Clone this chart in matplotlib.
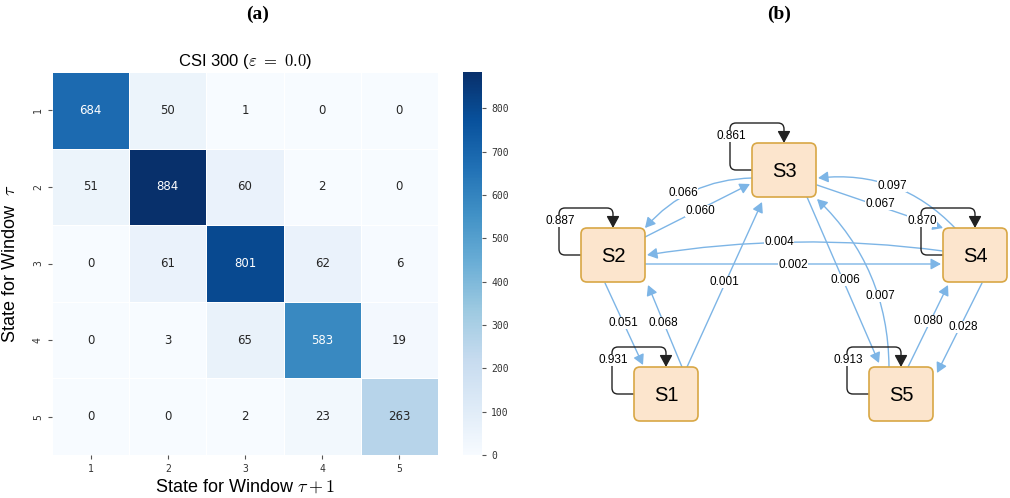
import numpy as np
import matplotlib
matplotlib.use("Agg")
import matplotlib.pyplot as plt
import seaborn as sns
from matplotlib.patches import FancyBboxPatch, FancyArrowPatch
from matplotlib.path import Path

# ---------------- data ----------------
states = [1, 2, 3, 4, 5]
counts = [
    [684, 50, 1, 0, 0],
    [51, 884, 60, 2, 0],
    [0, 61, 801, 62, 6],
    [0, 3, 65, 583, 19],
    [0, 0, 2, 23, 263],
]
cbar_ticks = [0, 100, 200, 300, 400, 500, 600, 700, 800]
heat_title = r"CSI 300 ($\varepsilon\ =\ 0.0$)"
xlabel = r"State for Window $\tau + 1$"
ylabel = r"State for Window  $\tau$"
node_names = ["S1", "S2", "S3", "S4", "S5"]

# transition probabilities (row-normalised counts)
cnt = np.array(counts, dtype=float)
probs = cnt / cnt.sum(axis=1, keepdims=True)

# ---------------- layout (pixels) ----------------
W, H = 1010, 498
node_center = {1: (666, 394), 2: (613, 255), 3: (784, 170), 4: (975, 255), 5: (901, 394)}
node_w, node_h = 64, 54
# edges: src, dst, start offset, end offset, label position, curvature
edges = [
    (3, 2, (-32, 8), (32, -27), (683, 193), 0.22),
    (2, 3, (32, -18), (-34, 14), (700, 211), 0.0),
    (4, 2, (-32, -4), (34, 0), (779, 242), 0.074),
    (2, 4, (32, 9), (-34, 9), (793, 265), 0.0),
    (1, 3, (21, -27), (-22, 32), (724, 282), 0.0),
    (3, 4, (33, 15), (-32, -27), (880, 204), 0.0),
    (4, 3, (-20, -27), (34, 8), (892, 186), 0.245),
    (3, 5, (23, 27), (-22, -31), (845, 280), 0.0),
    (5, 3, (-12, -27), (33, 29), (880, 296), 0.21),
    (2, 1, (-8, 28), (-23, -29), (623, 323), 0.0),
    (1, 2, (16, -27), (35, 30), (663, 323), 0.0),
    (5, 4, (7, -27), (-27, 30), (928, 321), 0.0),
    (4, 5, (7, 28), (36, -21), (963, 327), 0.0),
]

plt.rcParams["mathtext.fontset"] = "cm"
fig = plt.figure(figsize=(W / 100, H / 100), dpi=100)


def rect(x0, y0, x1, y1):
    return [x0 / W, 1 - y1 / H, (x1 - x0) / W, (y1 - y0) / H]


# ---------------- panel (a) ----------------
ax = fig.add_axes(rect(52, 72, 438, 455))
cax = fig.add_axes(rect(463, 72, 482, 455))
sns.heatmap(counts, annot=True, fmt="d", cmap="Blues", vmin=0, ax=ax, cbar_ax=cax,
            linewidths=0.5, linecolor="white",
            annot_kws={"fontsize": 8.5, "family": "DejaVu Sans"},
            xticklabels=states, yticklabels=states)
ax.set_title(heat_title, fontsize=12, family="Liberation Sans", pad=4)
ax.set_xlabel(xlabel, fontsize=13, family="Liberation Sans", labelpad=3)
ax.set_ylabel(ylabel, fontsize=13, family="Liberation Sans", labelpad=10)
for t in ax.get_xticklabels():
    t.set_family("DejaVu Sans Mono"); t.set_fontsize(7); t.set_color("#333333")
for t in ax.get_yticklabels():
    t.set_family("DejaVu Sans Mono"); t.set_fontsize(7); t.set_rotation(90)
    t.set_va("center"); t.set_color("#333333")
ax.tick_params(length=3, width=0.8, color="#555555")
cax.set_yticks(cbar_ticks)
cax.set_yticklabels([str(v) for v in cbar_ticks], family="DejaVu Sans Mono", fontsize=7, color="#333333")
cax.tick_params(length=3, width=0.8, color="#555555")

fig.text(258 / W, 1 - 14 / H, "(a)", ha="center", va="center", fontsize=14,
         fontweight="bold", family="Liberation Serif")
fig.text(779 / W, 1 - 14 / H, "(b)", ha="center", va="center", fontsize=14,
         fontweight="bold", family="Liberation Serif")

# ---------------- panel (b) ----------------
bx = fig.add_axes([540 / W, 0, 470 / W, 1])
bx.set_xlim(540, 1010)
bx.set_ylim(H, 0)
bx.axis("off")

blue = "#7db5e6"
fill = "#fce5cd"
stroke = "#d8a745"


def rounded_poly(pts, r):
    verts = [pts[0]]
    codes = [Path.MOVETO]
    for i in range(1, len(pts) - 1):
        p0, p1, p2 = (np.array(pts[i - 1], float), np.array(pts[i], float),
                      np.array(pts[i + 1], float))
        d1 = (p0 - p1) / np.linalg.norm(p0 - p1)
        d2 = (p2 - p1) / np.linalg.norm(p2 - p1)
        a = p1 + d1 * r
        b = p1 + d2 * r
        verts += [tuple(a), tuple(p1), tuple(b)]
        codes += [Path.LINETO, Path.CURVE3, Path.CURVE3]
    verts.append(pts[-1])
    codes.append(Path.LINETO)
    return Path(verts, codes)


# nodes
for k, name in zip(states, node_names):
    cx, cy = node_center[k]
    box = FancyBboxPatch((cx - node_w / 2, cy - node_h / 2), node_w, node_h,
                         boxstyle="round,pad=0,rounding_size=6",
                         facecolor=fill, edgecolor=stroke, lw=1.2, zorder=3)
    bx.add_patch(box)
    bx.text(cx, cy + 1, name, ha="center", va="center", fontsize=14.5,
            family="Liberation Sans", zorder=4)

    # self loop
    left = cx - node_w / 2
    top = cy - node_h / 2
    lx = left - 22
    ty = top - 20
    path = rounded_poly([(left, cy), (lx, cy), (lx, ty), (cx, ty), (cx, top)], 6)
    loop = FancyArrowPatch(path=path, arrowstyle="-|>,head_length=0.55,head_width=0.3",
                           mutation_scale=13, color="#222222", lw=1.0, zorder=2)
    bx.add_patch(loop)
    bx.text(lx + 1, ty + 13, f"{probs[k - 1, k - 1]:.3f}", ha="center", va="center",
            fontsize=8.5, family="Liberation Sans", zorder=5,
            bbox=dict(facecolor="white", edgecolor="none", pad=0.3))

# transitions
for s, d, so, eo, lp, rad in edges:
    sx, sy = node_center[s]
    dx, dy = node_center[d]
    a = FancyArrowPatch((sx + so[0], sy + so[1]), (dx + eo[0], dy + eo[1]),
                        arrowstyle="-|>,head_length=0.55,head_width=0.3",
                        mutation_scale=11, color=blue, lw=1.0,
                        shrinkA=0, shrinkB=0,
                        connectionstyle=f"arc3,rad={rad}", zorder=1)
    bx.add_patch(a)
    bx.text(lp[0], lp[1], f"{probs[s - 1, d - 1]:.3f}", ha="center", va="center",
            fontsize=8.5, family="Liberation Sans", zorder=5,
            bbox=dict(facecolor="white", edgecolor="none", pad=0.3))

fig.savefig("out.png", dpi=100)
